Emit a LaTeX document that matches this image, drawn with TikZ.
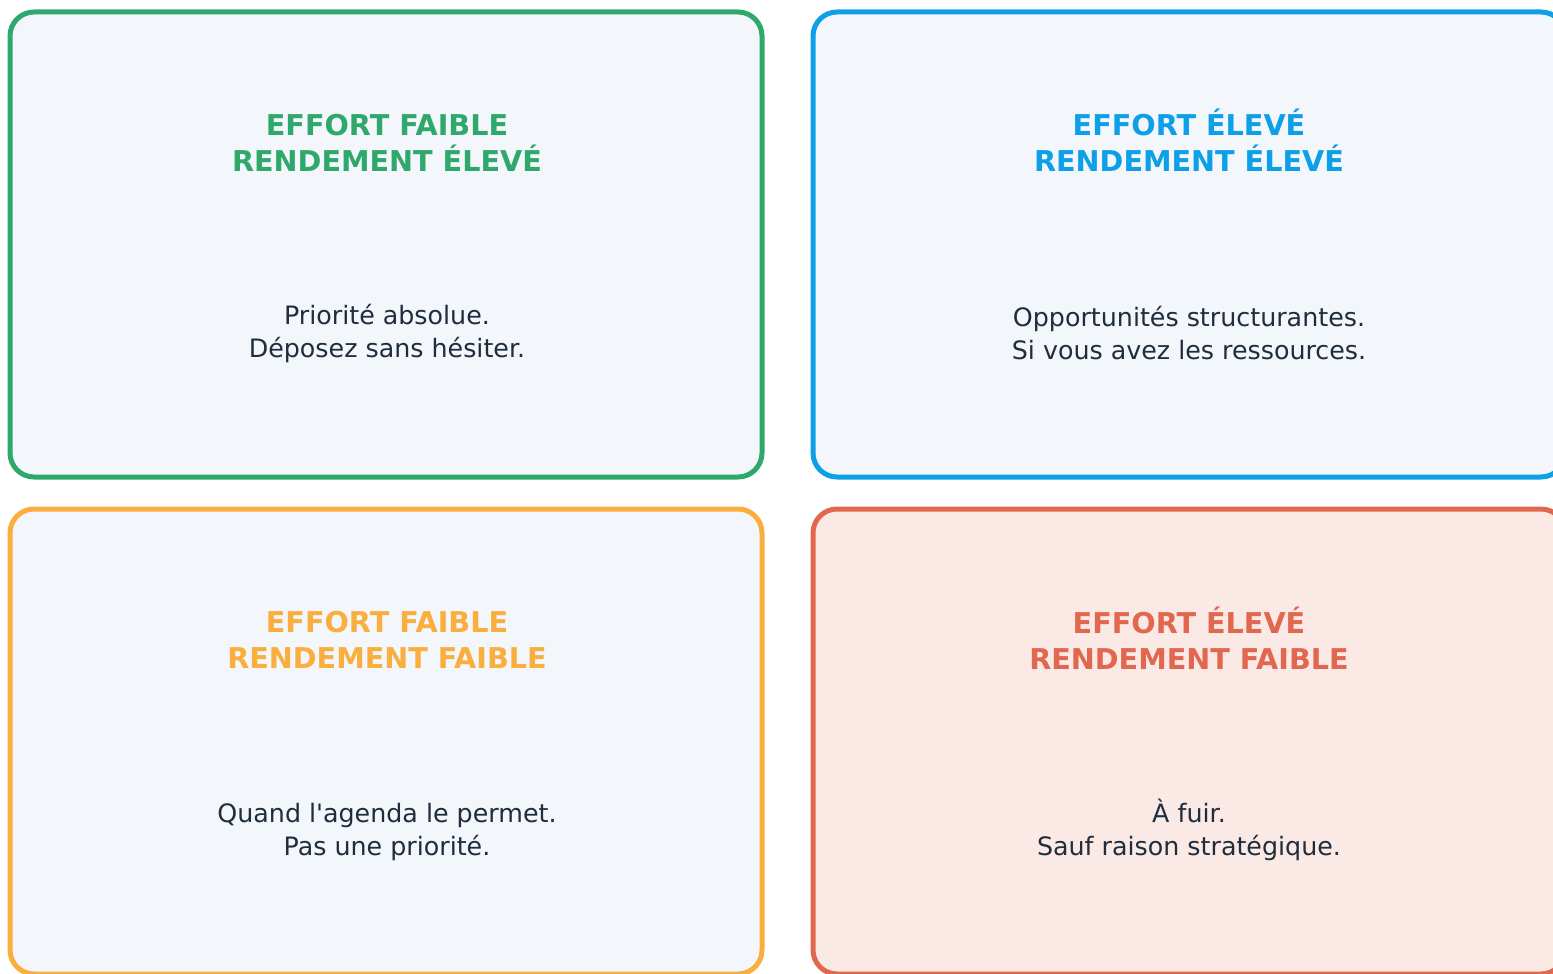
\documentclass[tikz,border=0pt]{standalone}
\usepackage{fontspec}
\setmainfont{DejaVu Sans}
\definecolor{vert}{HTML}{2EA86B}
\definecolor{bleu}{HTML}{0EA0E6}
\definecolor{orange}{HTML}{F9AE3D}
\definecolor{rouge}{HTML}{E2674F}
\definecolor{fond}{HTML}{F3F6FB}
\definecolor{fondrouge}{HTML}{FBE9E6}
\definecolor{encre}{HTML}{1F2D3D}

\begin{document}
\begin{tikzpicture}[x=0.75pt,y=-0.75pt,
	quad/.style={draw=#1,line width=3.75pt,rounded corners=18pt,fill=fond,
		minimum width=564pt,minimum height=348.75pt,inner sep=0pt},
	titre/.style={text=#1,font=\fontsize{21.5}{27}\selectfont\bfseries,align=center},
	texte/.style={text=encre,font=\fontsize{19}{24.75}\selectfont,align=center}]
	\useasboundingbox (0,0) rectangle (1553,974);

	\node[quad=vert] (Q1) at (386,244.5) {};
	\node[quad=bleu] (Q2) at (1189,244.5) {};
	\node[quad=orange] (Q3) at (386,741.5) {};
	\node[quad=rouge,fill=fondrouge] (Q4) at (1189,741.5) {};

	\node[titre=vert] (T1) at (387,143) {EFFORT FAIBLE\\RENDEMENT ÉLEVÉ};
	\node[titre=bleu] (T2) at (1189,140) {EFFORT ÉLEVÉ\\RENDEMENT ÉLEVÉ};
	\node[titre=orange] (T3) at (387,640) {EFFORT FAIBLE\\RENDEMENT FAIBLE};
	\node[titre=rouge] (T4) at (1189,638) {EFFORT ÉLEVÉ\\RENDEMENT FAIBLE};

	\node[texte] (B1) at (387,334) {Priorité absolue.\\Déposez sans hésiter.};
	\node[texte] (B2) at (1189,333) {Opportunités structurantes.\\Si vous avez les ressources.};
	\node[texte] (B3) at (387,832.5) {Quand l\textquotesingle agenda le permet.\\Pas une priorité.};
	\node[texte] (B4) at (1189,830) {À fuir.\\Sauf raison stratégique.};
\end{tikzpicture}
\end{document}
